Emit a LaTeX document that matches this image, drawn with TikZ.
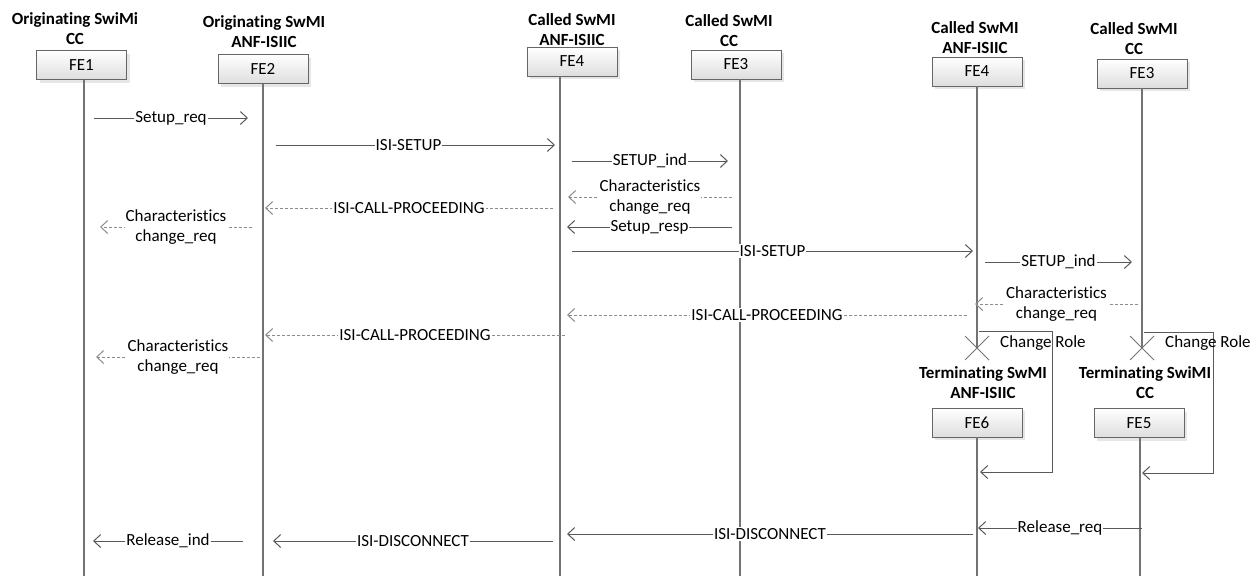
\documentclass[tikz,border=0pt]{standalone}
\usepackage{fontspec}
\setmainfont[Ligatures=NoCommon]{Carlito}
\usetikzlibrary{arrows.meta,calc,shadows}
\begin{document}
\begin{tikzpicture}[x=1pt,y=-1pt,
 fe/.style={draw=black!60, top color=white, bottom color=black!13, minimum width=90pt, minimum height=29pt, inner sep=0pt, font=\fontsize{17}{20}\selectfont, drop shadow={shadow xshift=3pt, shadow yshift=-3pt, opacity=0.2}},
 hdr/.style={align=center, font=\fontsize{17}{20}\selectfont\bfseries, inner sep=0pt},
 life/.style={draw=black!55, line width=1.1pt},
 msg/.style={draw=black!65, line width=1pt, -{Straight Barb[length=7pt,width=13pt]}},
 rsp/.style={msg, draw=black!45, dash pattern=on 3pt off 2pt},
 lbl/.style={fill=white, inner sep=1pt, align=center, font=\fontsize{17}{19.5}\selectfont, text=black},
 xmark/.style={draw=black!55, line width=1pt},
]
\useasboundingbox (0,0) rectangle (1257,576);

% boxes
\node[fe] (FE1) at (81.5,65) {FE1};
\node[fe] (FE2) at (263,69) {FE2};
\node[fe] (FE4a) at (572,61.5) {FE4};
\node[fe] (FE3a) at (736,64.5) {FE3};
\node[fe] (FE4b) at (977,71.5) {FE4};
\node[fe] (FE3b) at (1142,73.5) {FE3};
\node[fe] (FE6) at (977,422.5) {FE6};
\node[fe] (FE5) at (1139,423) {FE5};

% headers
\node[hdr] (hFE1) at (75,29) {Originating SwiMi\\CC};
\node[hdr] (hFE2) at (264,32) {Originating SwMI\\ANF-ISIIC};
\node[hdr] (hFE4a) at (572,29.5) {Called SwMI\\ANF-ISIIC};
\node[hdr] (hFE3a) at (729,31) {Called SwMI\\CC};
\node[hdr] (hFE4b) at (975,37.5) {Called SwMI\\ANF-ISIIC};
\node[hdr] (hFE3b) at (1134,39) {Called SwMI\\CC};
\node[hdr] (hFE6) at (983,382.5) {Terminating SwMI\\ANF-ISIIC};
\node[hdr] (hFE5) at (1145,383) {Terminating SwiMI\\CC};

% lifeline coordinates
\coordinate (L1) at (84,80);
\coordinate (L2) at (263,84);
\coordinate (L4a) at (560,76);
\coordinate (L3a) at (740,79);
\coordinate (L4b) at (977,86);
\coordinate (L3b) at (1142,88);
\coordinate (L6) at (977,437);
\coordinate (L5) at (1140,438);
\coordinate (X1) at (977,348);
\coordinate (X2) at (1142,348);
\coordinate (bot) at (0,576);

\draw[life] (L1) -- (L1|-bot);
\draw[life] (L2) -- (L2|-bot);
\draw[life] (L4a) -- (L4a|-bot);
\draw[life] (L3a) -- (L3a|-bot);
\draw[life] (L4b) -- (X1);
\draw[life] (L3b) -- (X2);
\draw[life] (L6) -- (L6|-bot);
\draw[life] (L5) -- (L5|-bot);

% destroy marks
\draw[xmark] ($(X1)+(-12,-12)$) -- ($(X1)+(12,12)$) ($(X1)+(-12,12)$) -- ($(X1)+(12,-12)$);
\draw[xmark] ($(X2)+(-12,-12)$) -- ($(X2)+(12,12)$) ($(X2)+(-12,12)$) -- ($(X2)+(12,-12)$);

% rows
\coordinate (r1) at (0,118);
\coordinate (r2) at (0,145);
\coordinate (r3) at (0,161);
\coordinate (r4) at (0,197);
\coordinate (r5) at (0,208);
\coordinate (r6) at (0,227);
\coordinate (r7) at (0,251);
\coordinate (r8) at (0,262);
\coordinate (r9) at (0,304);
\coordinate (r10) at (0,315);
\coordinate (r11) at (0,331);
\coordinate (r12) at (0,335);
\coordinate (r14) at (0,357);
\coordinate (r15) at (0,472);
\coordinate (r16) at (0,528);
\coordinate (r17) at (0,534);
\coordinate (r18) at (0,541);

% messages
\draw[msg] ($(L1|-r1)+(10,0)$) -- node[lbl]{Setup\_req} ($(L2|-r1)+(-15,0)$);
\draw[msg] ($(L2|-r2)+(13,0)$) -- node[lbl,xshift=-7pt]{ISI-SETUP} ($(L4a|-r2)+(-5,0)$);
\draw[msg] ($(L4a|-r3)+(12,0)$) -- node[lbl]{SETUP\_ind} ($(L3a|-r3)+(-12,0)$);
\draw[rsp] ($(L3a|-r4)+(-8,0)$) -- node[lbl]{Characteristics\\change\_req} ($(L4a|-r4)+(8,0)$);
\draw[rsp] ($(L4a|-r5)+(-7,0)$) -- node[lbl]{ISI-CALL-PROCEEDING} ($(L2|-r5)+(2,0)$);
\draw[rsp] ($(L2|-r6)+(-11,0)$) -- node[lbl]{Characteristics\\change\_req} ($(L1|-r6)+(16,0)$);
\draw[msg] ($(L3a|-r6)+(-8,0)$) -- node[lbl]{Setup\_resp} ($(L4a|-r6)+(7,0)$);
\draw[msg] ($(L4a|-r7)+(12,0)$) -- node[lbl]{ISI-SETUP} ($(L4b|-r7)+(-4,0)$);
\draw[msg] ($(L4b|-r8)+(8,0)$) -- node[lbl]{SETUP\_ind} ($(L3b|-r8)+(-10,0)$);
\draw[rsp] ($(L3b|-r9)+(-4,0)$) -- node[lbl]{Characteristics\\change\_req} ($(L4b|-r9)+(-2,0)$);
\draw[rsp] ($(L4b|-r10)+(-10,0)$) -- node[lbl]{ISI-CALL-PROCEEDING} ($(L4a|-r10)+(7,0)$);
\draw[rsp] ($(L4a|-r12)+(5,0)$) -- node[lbl]{ISI-CALL-PROCEEDING} ($(L2|-r12)+(2,0)$);
\draw[rsp] ($(L2|-r14)+(-3,0)$) -- node[lbl]{Characteristics\\change\_req} ($(L1|-r14)+(12,0)$);

% change role loops
\draw[msg] ($(L4b|-r11)+(2,0)$) -| ($(1052,0)+(r15)$) -- ($(L6|-r15)+(3,0)$);
\draw[msg] ($(L3b|-r11)+(2,1)$) -| ($(1213,1)+(r15)$) -- ($(L5|-r15)+(2,1)$);
\node[lbl, fill=none, anchor=west] (cr1) at (999,343) {Change Role};
\node[lbl, fill=none, anchor=west] (cr2) at (1164,343) {Change Role};

% release
\draw[msg] ($(L5|-r16)+(2,0)$) -- node[lbl]{Release\_req} ($(L6|-r16)+(1,0)$);
\draw[msg] ($(L6|-r17)+(-4,0)$) -- node[lbl]{ISI-DISCONNECT} ($(L4a|-r17)+(7,0)$);
\draw[msg] ($(L4a|-r18)+(-7,0)$) -- node[lbl]{ISI-DISCONNECT} ($(L2|-r18)+(10,0)$);
\draw[msg] ($(L2|-r18)+(-20,0)$) -- node[lbl]{Release\_ind} ($(L1|-r18)+(9,0)$);
\end{tikzpicture}
\end{document}
